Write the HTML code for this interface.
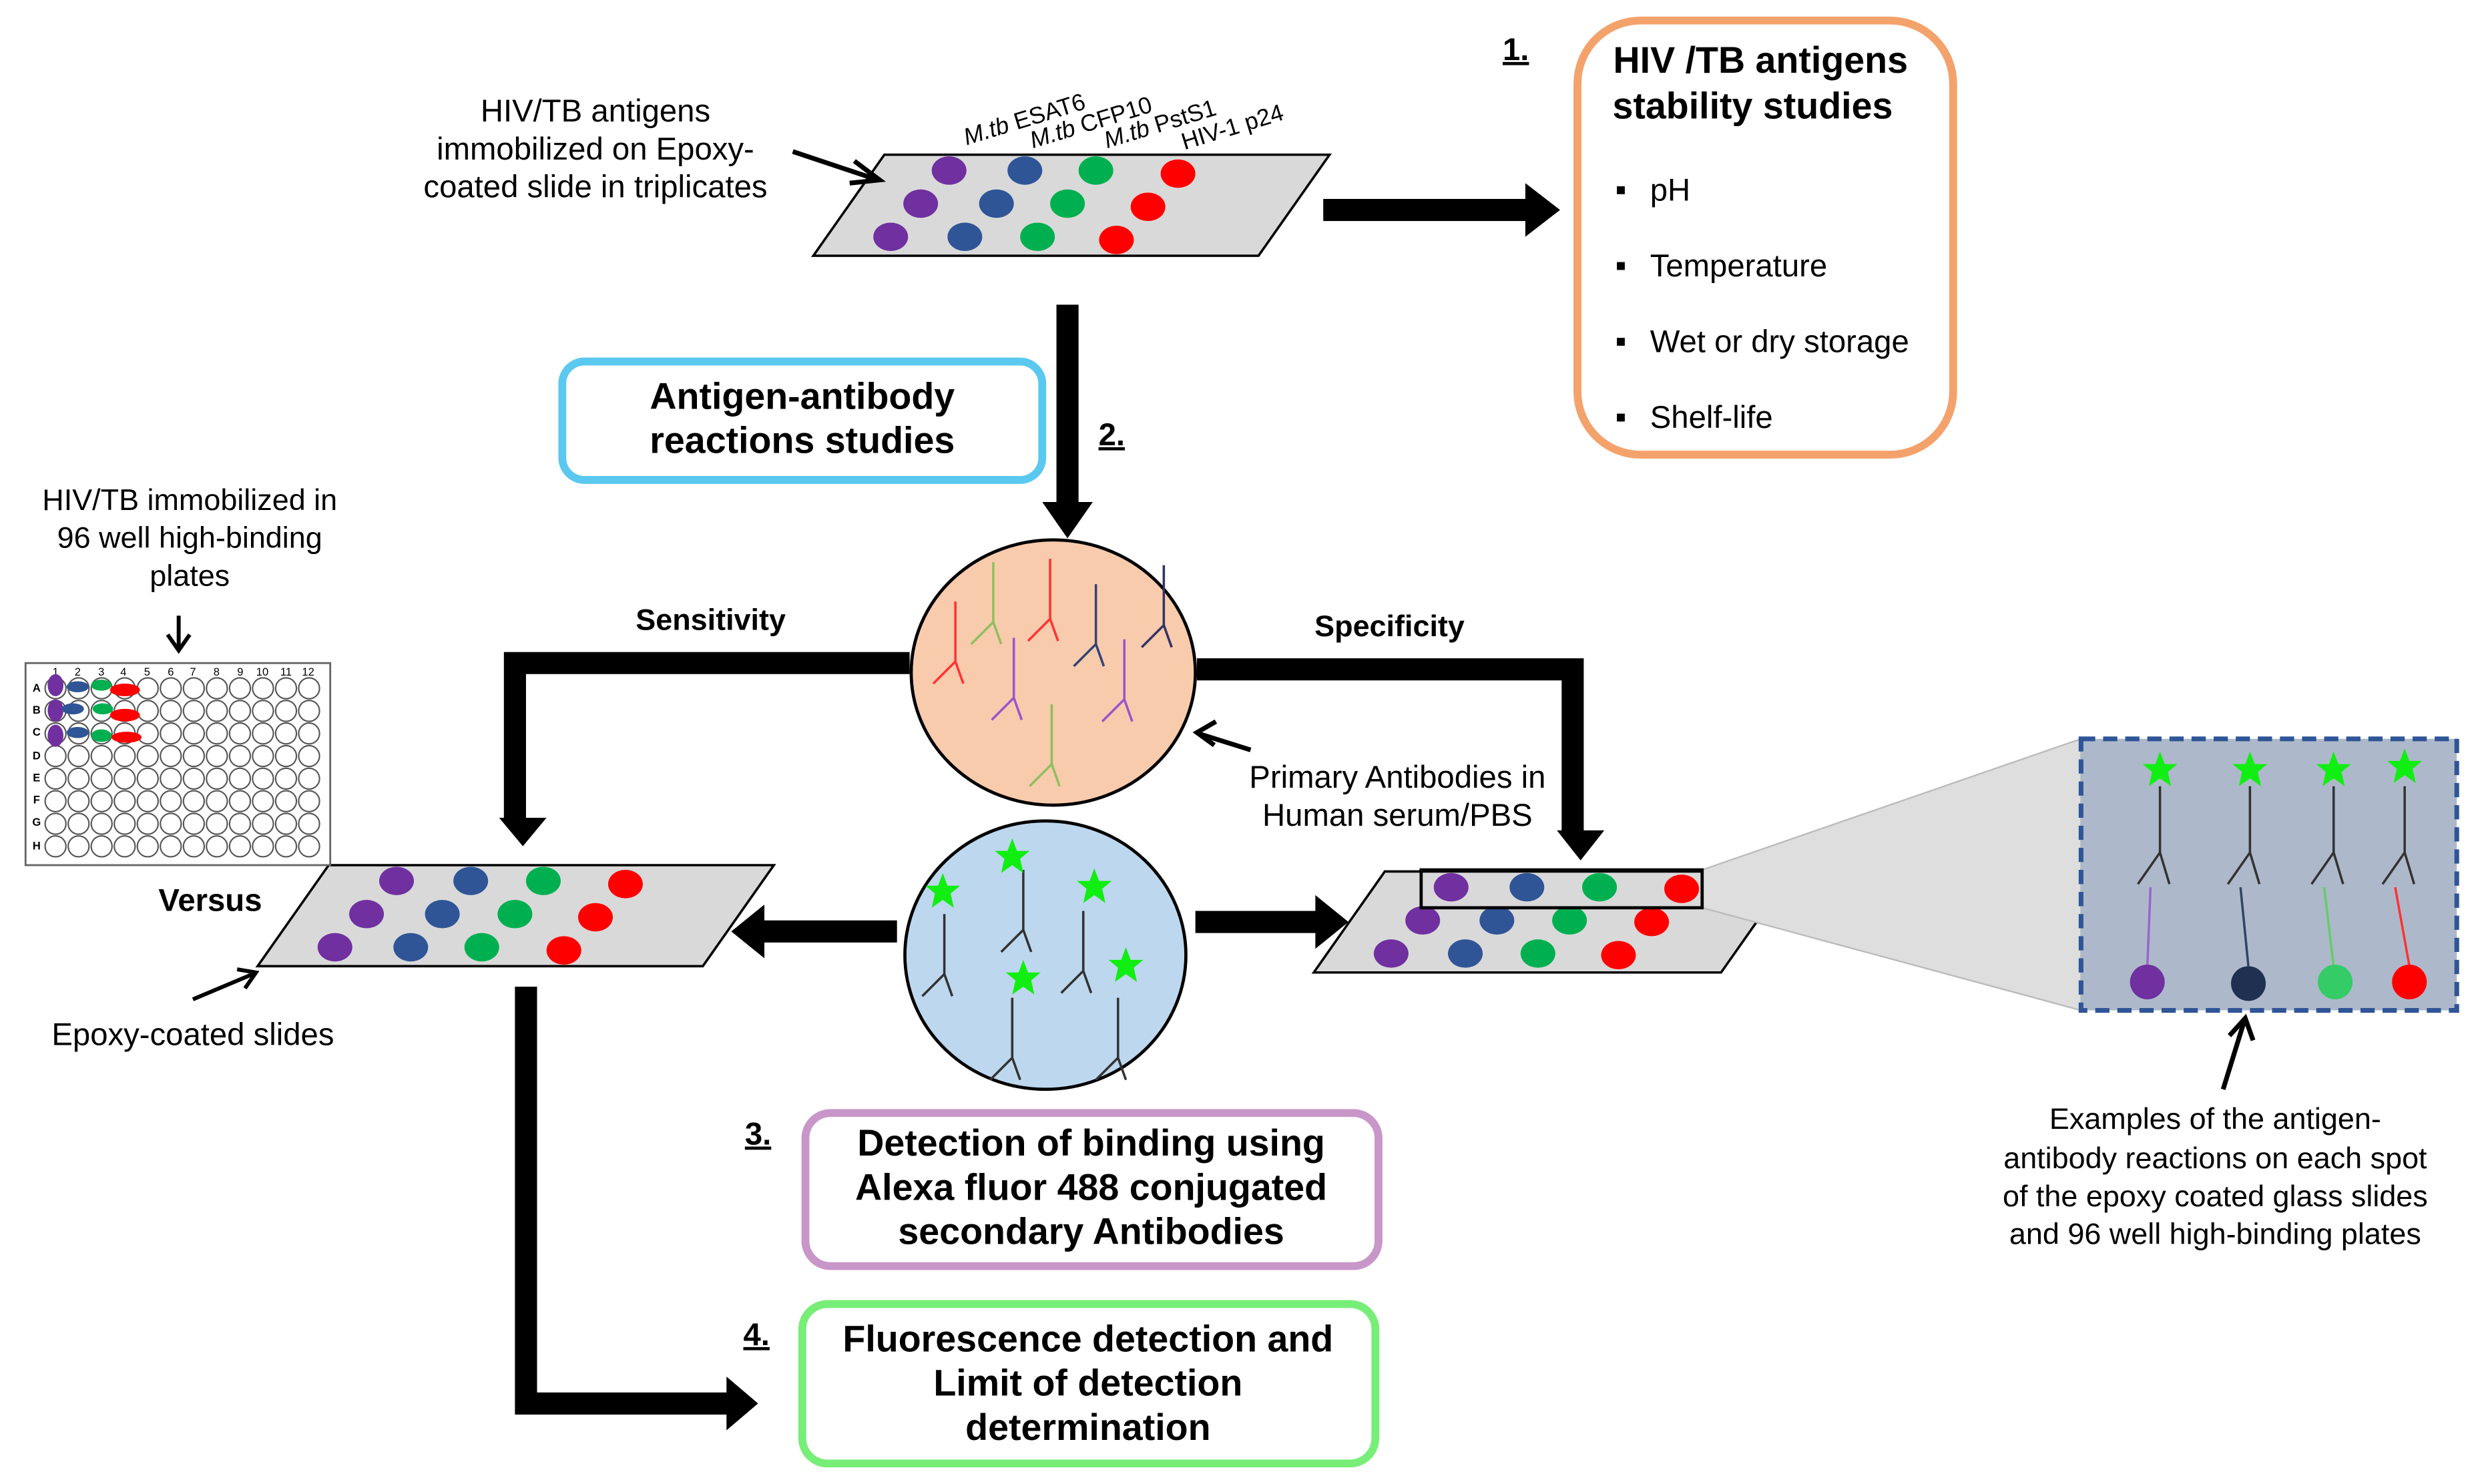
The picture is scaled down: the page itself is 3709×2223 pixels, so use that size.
<!DOCTYPE html>
<html><head><meta charset="utf-8"><style>
html,body{margin:0;padding:0;background:#fff;}
svg{display:block;}
text{font-family:"Liberation Sans",Arial,sans-serif;fill:#000;}
</style></head><body>
<svg width="3709" height="2223" viewBox="0 0 1568 940" xmlns="http://www.w3.org/2000/svg">
<defs>
<g id="ab"><path d="M0,0 V-38 M0,0 L-14,14 M0,0 L5,14" fill="none" stroke-width="1.5"/></g>
<polygon id="star" points="0,-12 3,-4 11,-4 5,1 7,10 0,5 -7,10 -5,1 -11,-4 -3,-4" fill="#11ee11"/>
</defs>

<!-- top slide -->
<polygon points="515,162 560,98 842,98 797,162" fill="#d9d9d9" stroke="#000" stroke-width="1.5"/>
<g>
<ellipse cx="601" cy="108" rx="11" ry="9" fill="#7030a0"/><ellipse cx="649" cy="108" rx="11" ry="9" fill="#2f5597"/><ellipse cx="694" cy="108" rx="11" ry="9" fill="#00b050"/><ellipse cx="746" cy="110" rx="11" ry="9" fill="#ff0000"/>
<ellipse cx="583" cy="129" rx="11" ry="9" fill="#7030a0"/><ellipse cx="631" cy="129" rx="11" ry="9" fill="#2f5597"/><ellipse cx="676" cy="129" rx="11" ry="9" fill="#00b050"/><ellipse cx="727" cy="131" rx="11" ry="9" fill="#ff0000"/>
<ellipse cx="564" cy="150" rx="11" ry="9" fill="#7030a0"/><ellipse cx="611" cy="150" rx="11" ry="9" fill="#2f5597"/><ellipse cx="657" cy="150" rx="11" ry="9" fill="#00b050"/><ellipse cx="707" cy="152" rx="11" ry="9" fill="#ff0000"/>
</g>
<g font-size="15">
<text transform="translate(612,92) rotate(-17)"><tspan font-style="italic">M.tb</tspan> ESAT6</text>
<text transform="translate(654,94) rotate(-17)"><tspan font-style="italic">M.tb</tspan> CFP10</text>
<text transform="translate(701,94) rotate(-17)"><tspan font-style="italic">M.tb</tspan> PstS1</text>
<text transform="translate(750,95) rotate(-17)">HIV-1 p24</text>
</g>
<g font-size="20" text-anchor="middle">
<text x="377" y="77">HIV/TB antigens</text>
<text x="377" y="101">immobilized on Epoxy-</text>
<text x="377" y="125">coated slide in triplicates</text>
</g>
<line x1="502" y1="96" x2="553" y2="113" stroke="#000" stroke-width="3"/>
<path d="M541,102 L557,114 L538,116" fill="none" stroke="#000" stroke-width="3"/>

<!-- arrow to box1 -->
<rect x="838" y="126" width="130" height="14" fill="#000"/>
<polygon points="966,116 988,133 966,150" fill="#000"/>
<text x="960" y="38" font-size="20" font-weight="bold" text-anchor="middle" text-decoration="underline">1.</text>
<rect x="999" y="13" width="238" height="275" rx="40" fill="#fff" stroke="#f4a26c" stroke-width="5"/>
<text x="1115" y="46" font-size="23.5" font-weight="bold" text-anchor="middle">HIV /TB antigens</text>
<text x="1110" y="75" font-size="23.5" font-weight="bold" text-anchor="middle">stability studies</text>
<g font-size="20">
<rect x="1024" y="118" width="5" height="5" fill="#000"/><text x="1045" y="127">pH</text>
<rect x="1024" y="166" width="5" height="5" fill="#000"/><text x="1045" y="175">Temperature</text>
<rect x="1024" y="214" width="5" height="5" fill="#000"/><text x="1045" y="223">Wet or dry storage</text>
<rect x="1024" y="262" width="5" height="5" fill="#000"/><text x="1045" y="271">Shelf-life</text>
</g>

<!-- vertical arrow down -->
<rect x="669" y="193" width="14" height="127" fill="#000"/>
<polygon points="660,318 692,318 676,341" fill="#000"/>
<rect x="356" y="229" width="304" height="75" rx="14" fill="#fff" stroke="#5bc8f0" stroke-width="5"/>
<text x="508" y="259" font-size="23.5" font-weight="bold" text-anchor="middle">Antigen-antibody</text>
<text x="508" y="287" font-size="23.5" font-weight="bold" text-anchor="middle">reactions studies</text>
<text x="704" y="282" font-size="20" font-weight="bold" text-anchor="middle" text-decoration="underline">2.</text>

<!-- sensitivity / specificity arrows -->
<path d="M576,420 H326 V520" fill="none" stroke="#000" stroke-width="14"/>
<polygon points="316,518 346,518 331,536" fill="#000"/>
<text x="450" y="399" font-size="19" font-weight="bold" text-anchor="middle">Sensitivity</text>
<path d="M758,424 H996 V528" fill="none" stroke="#000" stroke-width="14"/>
<polygon points="986,526 1016,526 1001,545" fill="#000"/>
<text x="880" y="403" font-size="19" font-weight="bold" text-anchor="middle">Specificity</text>

<!-- orange ellipse -->
<ellipse cx="667" cy="426" rx="90" ry="84" fill="#f8cbad" stroke="#000" stroke-width="2"/>
<g>
<use href="#ab" x="605" y="419" stroke="#ff3333"/>
<use href="#ab" x="629" y="394" stroke="#8fbf60"/>
<use href="#ab" x="665" y="392" stroke="#ff3333"/>
<use href="#ab" x="694" y="408" stroke="#334477"/>
<use href="#ab" x="737" y="396" stroke="#333366"/>
<use href="#ab" x="642" y="442" stroke="#9955cc"/>
<use href="#ab" x="712" y="443" stroke="#9955cc"/>
<use href="#ab" x="666" y="484" stroke="#8fbf60"/>
</g>
<line x1="792" y1="475" x2="760" y2="465" stroke="#000" stroke-width="3"/>
<path d="M770,457 L758,464 L769,472" fill="none" stroke="#000" stroke-width="3"/>
<text x="885" y="499" font-size="20" text-anchor="middle">Primary Antibodies in</text>
<text x="885" y="523" font-size="20" text-anchor="middle">Human serum/PBS</text>

<!-- blue ellipse -->
<ellipse cx="662" cy="605" rx="89" ry="85" fill="#bdd7ee" stroke="#000" stroke-width="2"/>
<g stroke="#333">
<use href="#ab" x="598" y="617"/>
<use href="#ab" x="648" y="589"/>
<use href="#ab" x="686" y="615"/>
<use href="#ab" x="641" y="670"/>
<use href="#ab" x="708" y="670"/>
</g>
<use href="#star" x="597" y="565"/>
<use href="#star" x="641" y="543"/>
<use href="#star" x="693" y="562"/>
<use href="#star" x="648" y="620"/>
<use href="#star" x="713" y="612"/>

<!-- side arrows -->
<rect x="482" y="583" width="86" height="14" fill="#000"/>
<polygon points="484,573 463,590 484,607" fill="#000"/>
<rect x="757" y="577" width="78" height="14" fill="#000"/>
<polygon points="833,567 854,584 833,601" fill="#000"/>

<!-- left slide -->
<polygon points="163,612 208,548 490,548 445,612" fill="#d9d9d9" stroke="#000" stroke-width="1.5"/>
<g>
<ellipse cx="251" cy="558" rx="11" ry="9" fill="#7030a0"/><ellipse cx="298" cy="558" rx="11" ry="9" fill="#2f5597"/><ellipse cx="344" cy="558" rx="11" ry="9" fill="#00b050"/><ellipse cx="396" cy="560" rx="11" ry="9" fill="#ff0000"/>
<ellipse cx="232" cy="579" rx="11" ry="9" fill="#7030a0"/><ellipse cx="280" cy="579" rx="11" ry="9" fill="#2f5597"/><ellipse cx="326" cy="579" rx="11" ry="9" fill="#00b050"/><ellipse cx="377" cy="581" rx="11" ry="9" fill="#ff0000"/>
<ellipse cx="212" cy="600" rx="11" ry="9" fill="#7030a0"/><ellipse cx="260" cy="600" rx="11" ry="9" fill="#2f5597"/><ellipse cx="305" cy="600" rx="11" ry="9" fill="#00b050"/><ellipse cx="357" cy="602" rx="11" ry="9" fill="#ff0000"/>
</g>
<text x="133" y="577" font-size="20" font-weight="bold" text-anchor="middle">Versus</text>
<line x1="122" y1="633" x2="160" y2="617" stroke="#000" stroke-width="2.5"/>
<path d="M150,614 L162,616 L155,626" fill="none" stroke="#000" stroke-width="2.5"/>
<text x="122" y="662" font-size="20" text-anchor="middle">Epoxy-coated slides</text>

<!-- right slide -->
<polygon points="832,616 877,552 1135,552 1090,616" fill="#d9d9d9" stroke="#000" stroke-width="1.5"/>
<polygon points="1078,551 1318,468 1318,640 1078,575" fill="#dedede" stroke="#bbb" stroke-width="1"/>
<g>
<ellipse cx="919" cy="562" rx="11" ry="9" fill="#7030a0"/><ellipse cx="967" cy="562" rx="11" ry="9" fill="#2f5597"/><ellipse cx="1013" cy="562" rx="11" ry="9" fill="#00b050"/><ellipse cx="1065" cy="563" rx="11" ry="9" fill="#ff0000"/>
<ellipse cx="901" cy="583" rx="11" ry="9" fill="#7030a0"/><ellipse cx="948" cy="583" rx="11" ry="9" fill="#2f5597"/><ellipse cx="994" cy="583" rx="11" ry="9" fill="#00b050"/><ellipse cx="1046" cy="584" rx="11" ry="9" fill="#ff0000"/>
<ellipse cx="881" cy="604" rx="11" ry="9" fill="#7030a0"/><ellipse cx="928" cy="604" rx="11" ry="9" fill="#2f5597"/><ellipse cx="974" cy="604" rx="11" ry="9" fill="#00b050"/><ellipse cx="1025" cy="605" rx="11" ry="9" fill="#ff0000"/>
</g>
<rect x="900" y="551" width="178" height="24" fill="none" stroke="#000" stroke-width="2"/>

<!-- zoom box -->
<rect x="1318" y="468" width="238" height="172" fill="#adb9ca" stroke="#2f5597" stroke-width="3" stroke-dasharray="9,5"/>
<g stroke-width="1.5" fill="none">
<path d="M1368,498 V540 M1368,540 L1354,560 M1368,540 L1374,560" stroke="#333"/>
<path d="M1362,562 L1360,612" stroke="#9966cc"/>
<path d="M1425,498 V540 M1425,540 L1411,560 M1425,540 L1431,560" stroke="#333"/>
<path d="M1419,562 L1424,612" stroke="#334466"/>
<path d="M1478,498 V540 M1478,540 L1464,560 M1478,540 L1484,560" stroke="#333"/>
<path d="M1472,562 L1478,612" stroke="#66cc66"/>
<path d="M1523,498 V540 M1523,540 L1509,560 M1523,540 L1529,560" stroke="#333"/>
<path d="M1517,562 L1526,612" stroke="#ff3333"/>
</g>
<use href="#star" x="1368" y="488"/><use href="#star" x="1425" y="488"/><use href="#star" x="1478" y="488"/><use href="#star" x="1523" y="486"/>
<ellipse cx="1360" cy="622" rx="11" ry="11" fill="#7030a0"/>
<ellipse cx="1424" cy="623" rx="11" ry="11" fill="#1f3050"/>
<ellipse cx="1479" cy="622" rx="11" ry="11" fill="#33cc66"/>
<ellipse cx="1526" cy="622" rx="11" ry="11" fill="#ff0000"/>
<line x1="1408" y1="690" x2="1421" y2="648" stroke="#000" stroke-width="3"/>
<path d="M1412,656 L1422,645 L1427,659" fill="none" stroke="#000" stroke-width="3"/>
<g font-size="19" text-anchor="middle">
<text x="1403" y="715">Examples of the antigen-</text>
<text x="1403" y="740">antibody reactions on each spot</text>
<text x="1403" y="764">of the epoxy coated glass slides</text>
<text x="1403" y="788">and 96 well high-binding plates</text>
</g>

<!-- bottom left path -->
<path d="M333,625 V889 H462" fill="none" stroke="#000" stroke-width="14"/>
<polygon points="460,872 480,889 460,906" fill="#000"/>

<!-- box 3 -->
<text x="480" y="725" font-size="20" font-weight="bold" text-anchor="middle" text-decoration="underline">3.</text>
<rect x="510" y="705" width="363" height="97" rx="16" fill="#fff" stroke="#c896c8" stroke-width="5"/>
<g font-size="23.5" font-weight="bold" text-anchor="middle">
<text x="691" y="732">Detection of binding using</text>
<text x="691" y="760">Alexa fluor 488 conjugated</text>
<text x="691" y="788">secondary Antibodies</text>
</g>
<!-- box 4 -->
<text x="479" y="852" font-size="20" font-weight="bold" text-anchor="middle" text-decoration="underline">4.</text>
<rect x="508" y="826" width="363" height="101" rx="16" fill="#fff" stroke="#77ee77" stroke-width="5"/>
<g font-size="23.5" font-weight="bold" text-anchor="middle">
<text x="689" y="856">Fluorescence detection and</text>
<text x="689" y="884">Limit of detection</text>
<text x="689" y="912">determination</text>
</g>

<!-- plate -->
<g font-size="19" text-anchor="middle">
<text x="120" y="323">HIV/TB immobilized in</text>
<text x="120" y="347">96 well high-binding</text>
<text x="120" y="371">plates</text>
</g>
<line x1="113" y1="390" x2="113" y2="410" stroke="#000" stroke-width="2.5"/>
<path d="M106,402 L113,412 L120,402" fill="none" stroke="#000" stroke-width="2.5"/>
<rect x="16" y="420" width="193" height="128" fill="#fff" stroke="#666" stroke-width="1.2"/>
<g font-size="7" text-anchor="middle" fill="#333">
<text x="35" y="428">1</text><text x="49" y="428">2</text><text x="64" y="428">3</text><text x="78" y="428">4</text><text x="93" y="428">5</text><text x="108" y="428">6</text><text x="122" y="428">7</text><text x="137" y="428">8</text><text x="152" y="428">9</text><text x="166" y="428">10</text><text x="181" y="428">11</text><text x="195" y="428">12</text>
<text x="23" y="438" font-weight="bold">A</text><text x="23" y="452" font-weight="bold">B</text><text x="23" y="466" font-weight="bold">C</text><text x="23" y="481" font-weight="bold">D</text><text x="23" y="495" font-weight="bold">E</text><text x="23" y="509" font-weight="bold">F</text><text x="23" y="523" font-weight="bold">G</text><text x="23" y="538" font-weight="bold">H</text>
</g>
<g fill="none" stroke="#555" stroke-width="0.9">
<g id="row"><circle cx="35" cy="436" r="6.6"/><circle cx="49.6" cy="436" r="6.6"/><circle cx="64.2" cy="436" r="6.6"/><circle cx="78.8" cy="436" r="6.6"/><circle cx="93.4" cy="436" r="6.6"/><circle cx="108" cy="436" r="6.6"/><circle cx="122.6" cy="436" r="6.6"/><circle cx="137.2" cy="436" r="6.6"/><circle cx="151.8" cy="436" r="6.6"/><circle cx="166.4" cy="436" r="6.6"/><circle cx="181" cy="436" r="6.6"/><circle cx="195.6" cy="436" r="6.6"/></g>
<use href="#row" y="14.3"/><use href="#row" y="28.6"/><use href="#row" y="42.9"/><use href="#row" y="57.2"/><use href="#row" y="71.5"/><use href="#row" y="85.8"/><use href="#row" y="100.1"/>
</g>
<g>
<ellipse cx="35" cy="434" rx="5" ry="7" fill="#7030a0"/><ellipse cx="49" cy="435" rx="7" ry="3.5" fill="#2f5597"/><ellipse cx="64" cy="434" rx="6.5" ry="3.5" fill="#00b050"/><ellipse cx="79" cy="437" rx="9.5" ry="4" fill="#ff0000"/>
<ellipse cx="35" cy="450" rx="5" ry="7" fill="#7030a0"/><ellipse cx="46" cy="449" rx="7" ry="3.5" fill="#2f5597"/><ellipse cx="65" cy="449" rx="6.5" ry="3.5" fill="#00b050"/><ellipse cx="79" cy="453" rx="9.5" ry="4" fill="#ff0000"/>
<ellipse cx="35" cy="466" rx="5" ry="7" fill="#7030a0"/><ellipse cx="49" cy="464" rx="7" ry="3.5" fill="#2f5597"/><ellipse cx="64" cy="466" rx="6.5" ry="4" fill="#00b050"/><ellipse cx="80" cy="467" rx="9.5" ry="3.5" fill="#ff0000"/>
</g>
</svg>
</body></html>
